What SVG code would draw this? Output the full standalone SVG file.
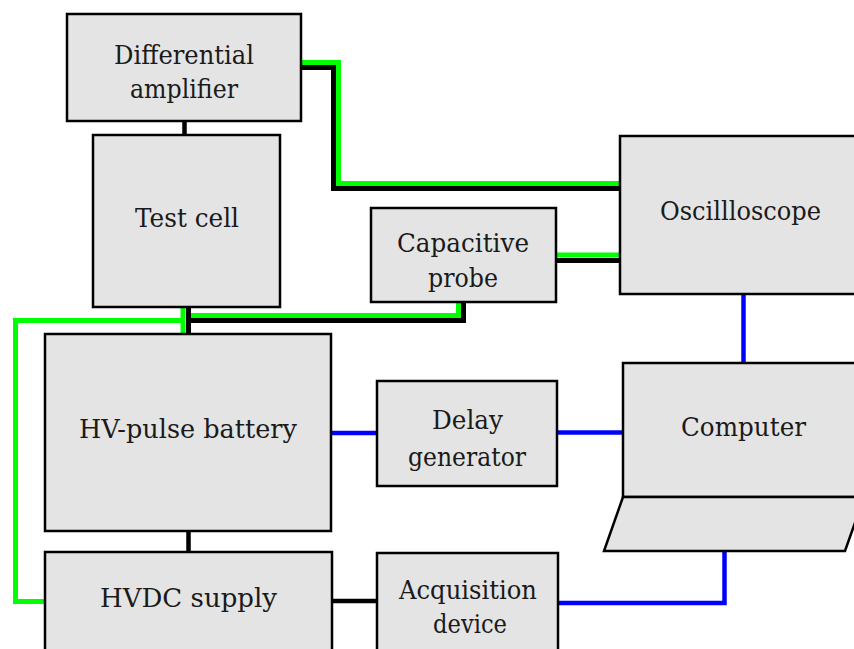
<svg xmlns="http://www.w3.org/2000/svg" width="854" height="649" viewBox="0 0 854 649">
<style>
.box{fill:#e4e4e4;stroke:#000;stroke-width:2.5}
.t{font-family:"DejaVu Serif","Liberation Serif","Times New Roman",serif;font-size:26.5px;fill:#1a1a1a;text-anchor:middle}
.g{fill:none;stroke:#00ff00;stroke-width:5}
.k{fill:none;stroke:#000;stroke-width:5}
.b{fill:none;stroke:#0000ff;stroke-width:4.5}
</style>
<rect width="854" height="649" fill="#fff"/>
<g id="connectors">
<path class="g" d="M301,62.5 H338.5 V183.5 H620"/>
<path class="k" d="M301,67.5 H333.5 V188.5 H620"/>
<path class="g" d="M556,255 H620"/>
<path class="k" d="M556,260.5 H620"/>
<path class="g" d="M458.5,302 V315.5 H186"/>
<path class="k" d="M463.5,302 V320.5 H188"/>
<path class="g" d="M45,601.5 H15.5 V320.5 H183"/>
<path class="g" d="M183,307 V334"/>
<path class="k" d="M188.5,307 V334"/>
<path class="k" d="M184.5,121 V135" style="stroke-width:4.5"/>
<path class="k" d="M188.5,531 V552" style="stroke-width:4.5"/>
<path class="k" d="M332,601 H377" style="stroke-width:4.5"/>
<path class="b" d="M331,433 H377"/>
<path class="b" d="M557,432.5 H623"/>
<path class="b" d="M743.5,294 V363"/>
<path class="b" d="M724.5,551 V603 H558"/>
</g>
<g id="diff-amp">
<rect class="box" x="67" y="14" width="234" height="107"/>
<text class="t" x="184" y="64" textLength="140" lengthAdjust="spacingAndGlyphs">Differential</text>
<text class="t" x="184" y="98" textLength="108" lengthAdjust="spacingAndGlyphs">amplifier</text>
</g>
<g id="test-cell">
<rect class="box" x="93" y="135" width="187" height="172"/>
<text class="t" x="187" y="227" textLength="104" lengthAdjust="spacingAndGlyphs">Test cell</text>
</g>
<g id="cap-probe">
<rect class="box" x="371" y="208" width="185" height="94"/>
<text class="t" x="463" y="252" textLength="132" lengthAdjust="spacingAndGlyphs">Capacitive</text>
<text class="t" x="463" y="287" textLength="70" lengthAdjust="spacingAndGlyphs">probe</text>
</g>
<g id="oscilloscope">
<rect class="box" x="620" y="136" width="250" height="158"/>
<text class="t" x="740.5" y="220" textLength="161" lengthAdjust="spacingAndGlyphs">Oscillloscope</text>
</g>
<g id="hv-pulse">
<rect class="box" x="45" y="334" width="286" height="197"/>
<text class="t" x="188" y="438" textLength="218" lengthAdjust="spacingAndGlyphs">HV-pulse battery</text>
</g>
<g id="delay-gen">
<rect class="box" x="377" y="381" width="180" height="105"/>
<text class="t" x="467.5" y="429" textLength="71" lengthAdjust="spacingAndGlyphs">Delay</text>
<text class="t" x="467" y="466" textLength="118" lengthAdjust="spacingAndGlyphs">generator</text>
</g>
<g id="computer">
<rect class="box" x="623" y="363" width="250" height="134"/>
<polygon class="box" points="623,497 864,497 845,551 604,551"/>
<text class="t" x="743.5" y="436" textLength="125" lengthAdjust="spacingAndGlyphs">Computer</text>
</g>
<g id="hvdc">
<rect class="box" x="45" y="552" width="287" height="110"/>
<text class="t" x="188.5" y="607" textLength="177" lengthAdjust="spacingAndGlyphs">HVDC supply</text>
</g>
<g id="acquisition">
<rect class="box" x="377" y="553" width="181" height="110"/>
<text class="t" x="468" y="599" textLength="138" lengthAdjust="spacingAndGlyphs">Acquisition</text>
<text class="t" x="470" y="633" textLength="74" lengthAdjust="spacingAndGlyphs">device</text>
</g>
</svg>
